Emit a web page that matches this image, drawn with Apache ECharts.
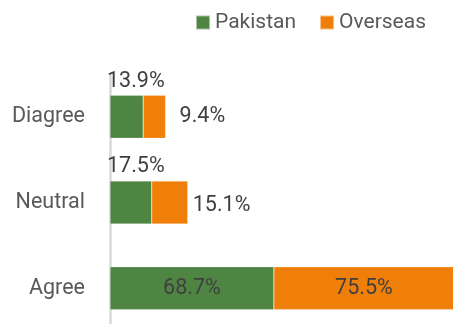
<!DOCTYPE html>
<html>
<head>
<meta charset="utf-8">
<script src="https://cdn.jsdelivr.net/npm/echarts@6/dist/echarts.min.js"></script>
<style>
  html, body { margin: 0; padding: 0; background: #ffffff; }
  #chart { width: 453px; height: 324px; }
</style>
</head>
<body>
<div id="chart"></div>
<script>
// Response categories, bottom to top on the vertical axis
const categories = ['Agree', 'Neutral', 'Diagree'];
const seriesNames = ['Pakistan', 'Overseas'];
const pakistanValues = [68.7, 17.5, 13.9];
const overseasValues = [75.5, 15.1, 9.4];

const FONT = 'Roboto, "Liberation Sans", sans-serif';
const GREEN = '#4E8542';
const ORANGE = '#F07F09';
const LABEL_COLOR = '#404040';

const fmt = p => p.value.toFixed(1) + '%';

// Small segments get their labels placed outside the bar
function pakistanData() {
  return pakistanValues.map((v, i) => {
    if (categories[i] === 'Agree') return v;
    return { value: v, label: { position: [-3, -14], align: 'left', verticalAlign: 'middle' } };
  });
}
function overseasData() {
  return overseasValues.map((v, i) => {
    if (categories[i] === 'Neutral') return { value: v, label: { position: 'right', distance: 5, offset: [0, 3] } };
    if (categories[i] === 'Diagree') return { value: v, label: { position: 'right', distance: 14 } };
    return v;
  });
}

const chart = echarts.init(document.getElementById('chart'), null, { renderer: 'canvas' });
chart.setOption({
  animation: false,
  backgroundColor: '#ffffff',
  textStyle: { fontFamily: FONT },
  legend: {
    data: seriesNames,
    left: 195,
    top: 12,
    padding: 0,
    icon: 'rect',
    itemWidth: 14,
    itemHeight: 14,
    itemGap: 23,
    textStyle: { fontFamily: FONT, fontSize: 21, color: '#595959' }
  },
  // The plot area runs slightly past the bottom edge, so the last band is clipped
  grid: { left: 110, top: 74, width: 344, height: 257, outerBoundsMode: 'none', containLabel: false },
  xAxis: {
    type: 'value',
    min: 0,
    max: 144.2,
    show: false
  },
  yAxis: {
    type: 'category',
    data: categories,
    offset: 2,
    axisLine: { show: true, lineStyle: { color: '#d9d9d9', width: 2.5 } },
    axisTick: { show: false },
    axisLabel: { margin: 23, fontFamily: FONT, fontSize: 21.5, color: '#595959' },
    splitLine: { show: false }
  },
  series: [
    {
      name: seriesNames[0],
      type: 'bar',
      stack: 'total',
      barWidth: 43,
      itemStyle: { color: GREEN, borderColor: 'rgba(255,255,255,0.5)', borderWidth: 0.5 },
      label: { show: true, position: 'inside', formatter: fmt, fontFamily: FONT, fontSize: 21.5, color: LABEL_COLOR },
      data: pakistanData()
    },
    {
      name: seriesNames[1],
      type: 'bar',
      stack: 'total',
      barWidth: 43,
      itemStyle: { color: ORANGE, borderColor: 'rgba(255,255,255,0.5)', borderWidth: 0.5 },
      label: { show: true, position: 'inside', formatter: fmt, fontFamily: FONT, fontSize: 21.5, color: LABEL_COLOR },
      data: overseasData()
    }
  ]
});
</script>
</body>
</html>
